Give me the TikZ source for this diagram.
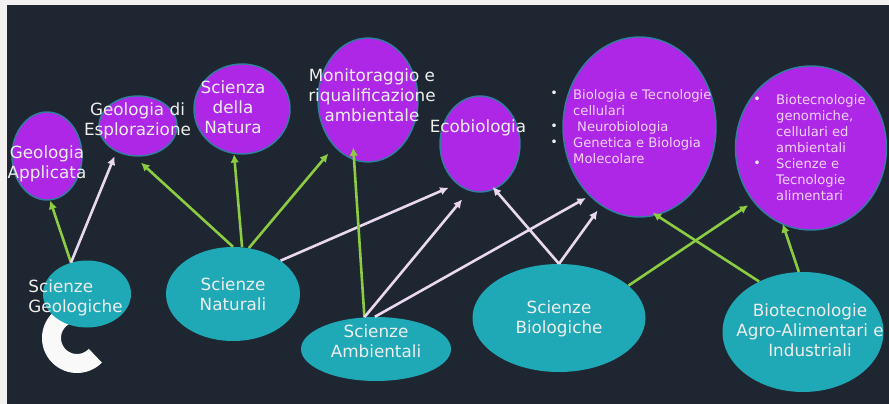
\documentclass[tikz,border=0pt]{standalone}
\usepackage{fontspec}
\setmainfont{DejaVu Sans}
\usetikzlibrary{shapes.geometric,arrows.meta}
\definecolor{bgpage}{HTML}{F4F2F0}
\definecolor{bgdark}{HTML}{1E2731}
\definecolor{purplefill}{HTML}{AE27E6}
\definecolor{purpleedge}{HTML}{2F7F9F}
\definecolor{tealfill}{HTML}{1FA8B6}
\definecolor{arrowgreen}{HTML}{8CCB42}
\definecolor{arrowpink}{HTML}{EAD8F0}
\definecolor{labelcol}{HTML}{EEEEEC}
\definecolor{listcol}{HTML}{F2D4F6}
\tikzset{
  x=1pt,y=-1pt,
  bub/.style n args={2}{ellipse,inner sep=0pt,minimum width=#1,minimum height=#2},
  purple bub/.style 2 args={bub={#1}{#2},fill=purplefill,draw=purpleedge,line width=1.4pt},
  teal bub/.style 2 args={bub={#1}{#2},fill=tealfill},
  big/.style={text=labelcol,align=center,inner sep=0pt,font=\fontsize{16.8}{20}\selectfont},
  small/.style={text=listcol,align=left,anchor=west,inner sep=0pt,font=\fontsize{13.15}{16}\selectfont},
  dot/.style={text=labelcol,inner sep=0pt,font=\fontsize{12.7}{16}\selectfont},
  gline/.style={draw=arrowgreen,line width=2.6pt,-{Latex[length=8.5pt,width=8.5pt]}},
  pline/.style={draw=arrowpink,line width=2.6pt,-{Latex[length=8.5pt,width=8.5pt]}},
}
\begin{document}
\begin{tikzpicture}
\useasboundingbox (0,0) rectangle (889,404);
\fill[bgpage] (0,0) rectangle (889,404);
\fill[bgdark] (7,5) rectangle (889,404);
% ring
\draw[white!95!gray,line width=19pt] plot[domain=100:316,samples=50,smooth] ({77+25.5*cos(\x)},{338-25.5*sin(\x)});
% bubbles
\node[purple bub={70pt}{88pt}] (ga) at (47,156) {};
\node[purple bub={78pt}{60pt}] (ge) at (138,126) {};
\node[purple bub={96pt}{90pt}] (gn) at (242,109) {};
\node[purple bub={100pt}{124pt}] (mo) at (368,100) {};
\node[purple bub={80pt}{96pt}] (ec) at (480,144) {};
\node[purple bub={153pt}{180pt}] (bi) at (639.5,127) {};
\node[purple bub={151pt}{164pt}] (bt) at (811,148) {};
\node[teal bub={88pt}{67pt}] (sg) at (87,294) {};
\node[teal bub={134pt}{94pt}] (sn) at (233,294) {};
\node[teal bub={150pt}{64pt}] (sa) at (376,349) {};
\node[teal bub={173pt}{108pt}] (sb) at (559,318) {};
\node[teal bub={161pt}{120pt}] (ba) at (803,332) {};
% connectors
\draw[gline] (sg.117) -- (ga.274);
\draw[pline,shorten >=5pt] (sg.117) -- (ge.230);
\draw[gline,shorten >=9pt] (sn.90) -- (ge.263);
\draw[gline] (sn.79) -- (gn.260);
\draw[gline,shorten >=9pt] (sn.71) -- (mo.234);
\draw[pline,shorten >=9pt] (sn.35) -- (ec.240);
\draw[gline,shorten >=-13pt] (sa.110) -- (mo.257.5);
\draw[pline,shorten >=11pt] (sa.110) -- (ec.257);
\draw[pline,shorten >=4pt] (sa.92) -- (bi.234.6);
\draw[pline,shorten >=-3.3pt] (sb.90) -- (ec.288.7);
\draw[pline,shorten >=6pt] (sb.90) -- (bi.244);
\draw[gline,shorten >=6pt] (sb.25) -- (bt.223);
\draw[gline,shorten >=-5pt] (ba.131) -- (bi.281);
\draw[gline,shorten >=-1pt] (ba.94) -- (bt.250);
% labels
\node[big] (tga) at (47,163.5) {Geologia\\Applicata};
\node[big] (tge) at (137.5,121) {Geologia di\\Esplorazione};
\node[big] (tgn) at (233,107) {Scienza\\della\\Natura};
\node[big] (tmo) at (372,95) {Monitoraggio e\\riqualificazione\\ambientale};
\node[big] (tec) at (478,128) {Ecobiologia};
\node[big,align=left] (tsg) at (75.5,298) {Scienze\\Geologiche};
\node[big] (tsn) at (233,294) {Scienze\\Naturali};
\node[big] (tsa) at (376,341.5) {Scienze\\Ambientali};
\node[big] (tsb) at (559,318.5) {Scienze\\Biologiche};
\node[big] (tba) at (810,330) {Biotecnologie\\Agro-Alimentari e\\Industriali};
\node[small] (tbi) at (573,127) {Biologia e Tecnologie\\cellulari\\\hspace{4pt}Neurobiologia\\Genetica e Biologia\\Molecolare};
\node[small] (tbt) at (776,148) {Biotecnologie\\genomiche,\\cellulari ed\\ambientali\\Scienze e\\Tecnologie\\alimentari};
\node[dot] (d1) at (554,94) {•};
\node[dot] (d2) at (554,127) {•};
\node[dot] (d3) at (554,143) {•};
\node[dot] (d4) at (757,100) {•};
\node[dot] (d5) at (757,164) {•};
\end{tikzpicture}
\end{document}
